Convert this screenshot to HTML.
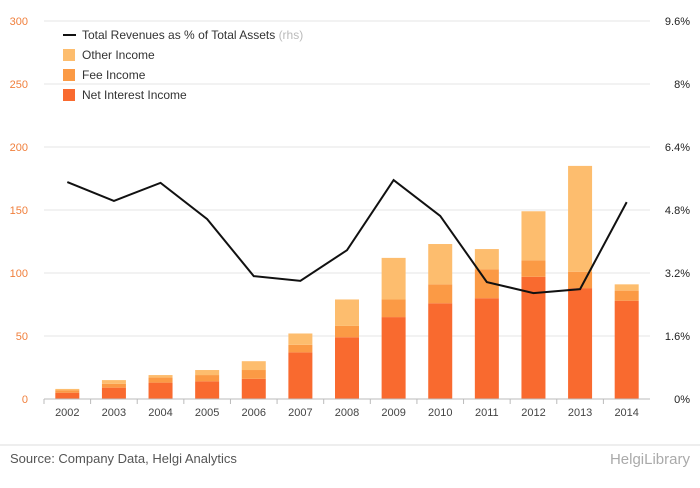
<!DOCTYPE html>
<html><head><meta charset="utf-8"><style>
body{margin:0;background:#fff;font-family:"Liberation Sans",sans-serif;}
svg text{font-family:"Liberation Sans",sans-serif;}
</style></head><body>
<svg id="chart" width="700" height="483">
<rect x="0" y="0" width="700" height="483" fill="#fff"/>
<g id="grid"></g><g id="bars"></g><g id="line"></g><g id="axes"></g>
<g>
<line x1="63" y1="35" x2="76" y2="35" stroke="#111" stroke-width="2"/>
<text x="82" y="39" font-size="12" fill="#333">Total Revenues as % of Total Assets <tspan fill="#bbb">(rhs)</tspan></text>
<rect x="63" y="49" width="12" height="12" fill="#fdbd6e"/>
<text x="82" y="59" font-size="12" fill="#333">Other Income</text>
<rect x="63" y="69" width="12" height="12" fill="#fb9a45"/>
<text x="82" y="79" font-size="12" fill="#333">Fee Income</text>
<rect x="63" y="89" width="12" height="12" fill="#f96a2f"/>
<text x="82" y="99" font-size="12" fill="#333">Net Interest Income</text>
</g>
<line x1="0" y1="445" x2="700" y2="445" stroke="#ddd"/>
<text x="10" y="463" font-size="13" fill="#555">Source: Company Data, Helgi Analytics</text>
<text x="690" y="464" font-size="15" fill="#aaa" text-anchor="end">HelgiLibrary</text>
</svg>
<script>
const years=["2002","2003","2004","2005","2006","2007","2008","2009","2010","2011","2012","2013","2014"];
const netInterest=[5,9,13,14,16,37,49,65,76,80,97,88,78];
const feeIncome=[2,3,4,5,7,6,9,14,15,23,13,13,8];
const otherIncome=[1,3,2,4,7,9,21,33,32,16,39,84,5];
const revPct=[5.51,5.03,5.49,4.57,3.12,3.0,3.78,5.56,4.65,2.97,2.69,2.79,5.0];
const leftTicks=[0,50,100,150,200,250,300];
const rightTicks=[0,1.6,3.2,4.8,6.4,8,9.6];
const NS="http://www.w3.org/2000/svg";
const y0=399,y1=21,x0=44,x1=650;
const yL=v=>y0-(v/300)*(y0-y1);
const yR=v=>y0-(v/9.6)*(y0-y1);
const step=(x1-x0)/years.length;
const xC=i=>x0+step*(i+0.5);
function mk(t,a,p){const e=document.createElementNS(NS,t);for(const k in a)e.setAttribute(k,a[k]);p.appendChild(e);return e;}
const grid=document.getElementById('grid'),bars=document.getElementById('bars'),line=document.getElementById('line'),axes=document.getElementById('axes');
leftTicks.forEach((v,i)=>{
 const g=mk('line',{x1:x0,x2:x1,y1:yL(v),y2:yL(v),stroke:'#e6e6e6'},grid);
 
 
 const t=mk('text',{x:28,y:yL(v)+4,'font-size':11,fill:'#f07f3c','text-anchor':'end'},axes);t.textContent=v;
 
 
});
rightTicks.forEach(v=>{
 const t=mk('text',{x:690,y:yR(v)+4,'font-size':11,fill:'#222','text-anchor':'end'},axes);t.textContent=v.toFixed(1).replace('.0','')+'%';
 if(v===8)t.textContent='8%';
 
 
});
mk('line',{x1:x0,x2:x1,y1:y0,y2:y0,stroke:'#bbb'},axes);
years.forEach((yr,i)=>{
 const bw=24,x=xC(i)-bw/2;
 let base=0;
 [[netInterest,'#f96a2f','bar-net-interest'],[feeIncome,'#fb9a45','bar-fee'],[otherIncome,'#fdbd6e','bar-other']].forEach(([arr,c,n])=>{
  const r=mk('rect',{x:x,width:bw,y:yL(base+arr[i]),height:yL(base)-yL(base+arr[i]),fill:c},bars);
  
  
  base+=arr[i];
 });
 mk('line',{x1:x0+step*i,x2:x0+step*i,y1:y0,y2:y0+5,stroke:'#bbb'},axes);
 const t=mk('text',{x:xC(i),y:416,'font-size':11,fill:'#444','text-anchor':'middle'},axes);t.textContent=yr;
 
 
});
const p=mk('polyline',{points:revPct.map((v,i)=>xC(i)+','+yR(v)).join(' '),fill:'none',stroke:'#111','stroke-width':2},line);


</script>
</body></html>
